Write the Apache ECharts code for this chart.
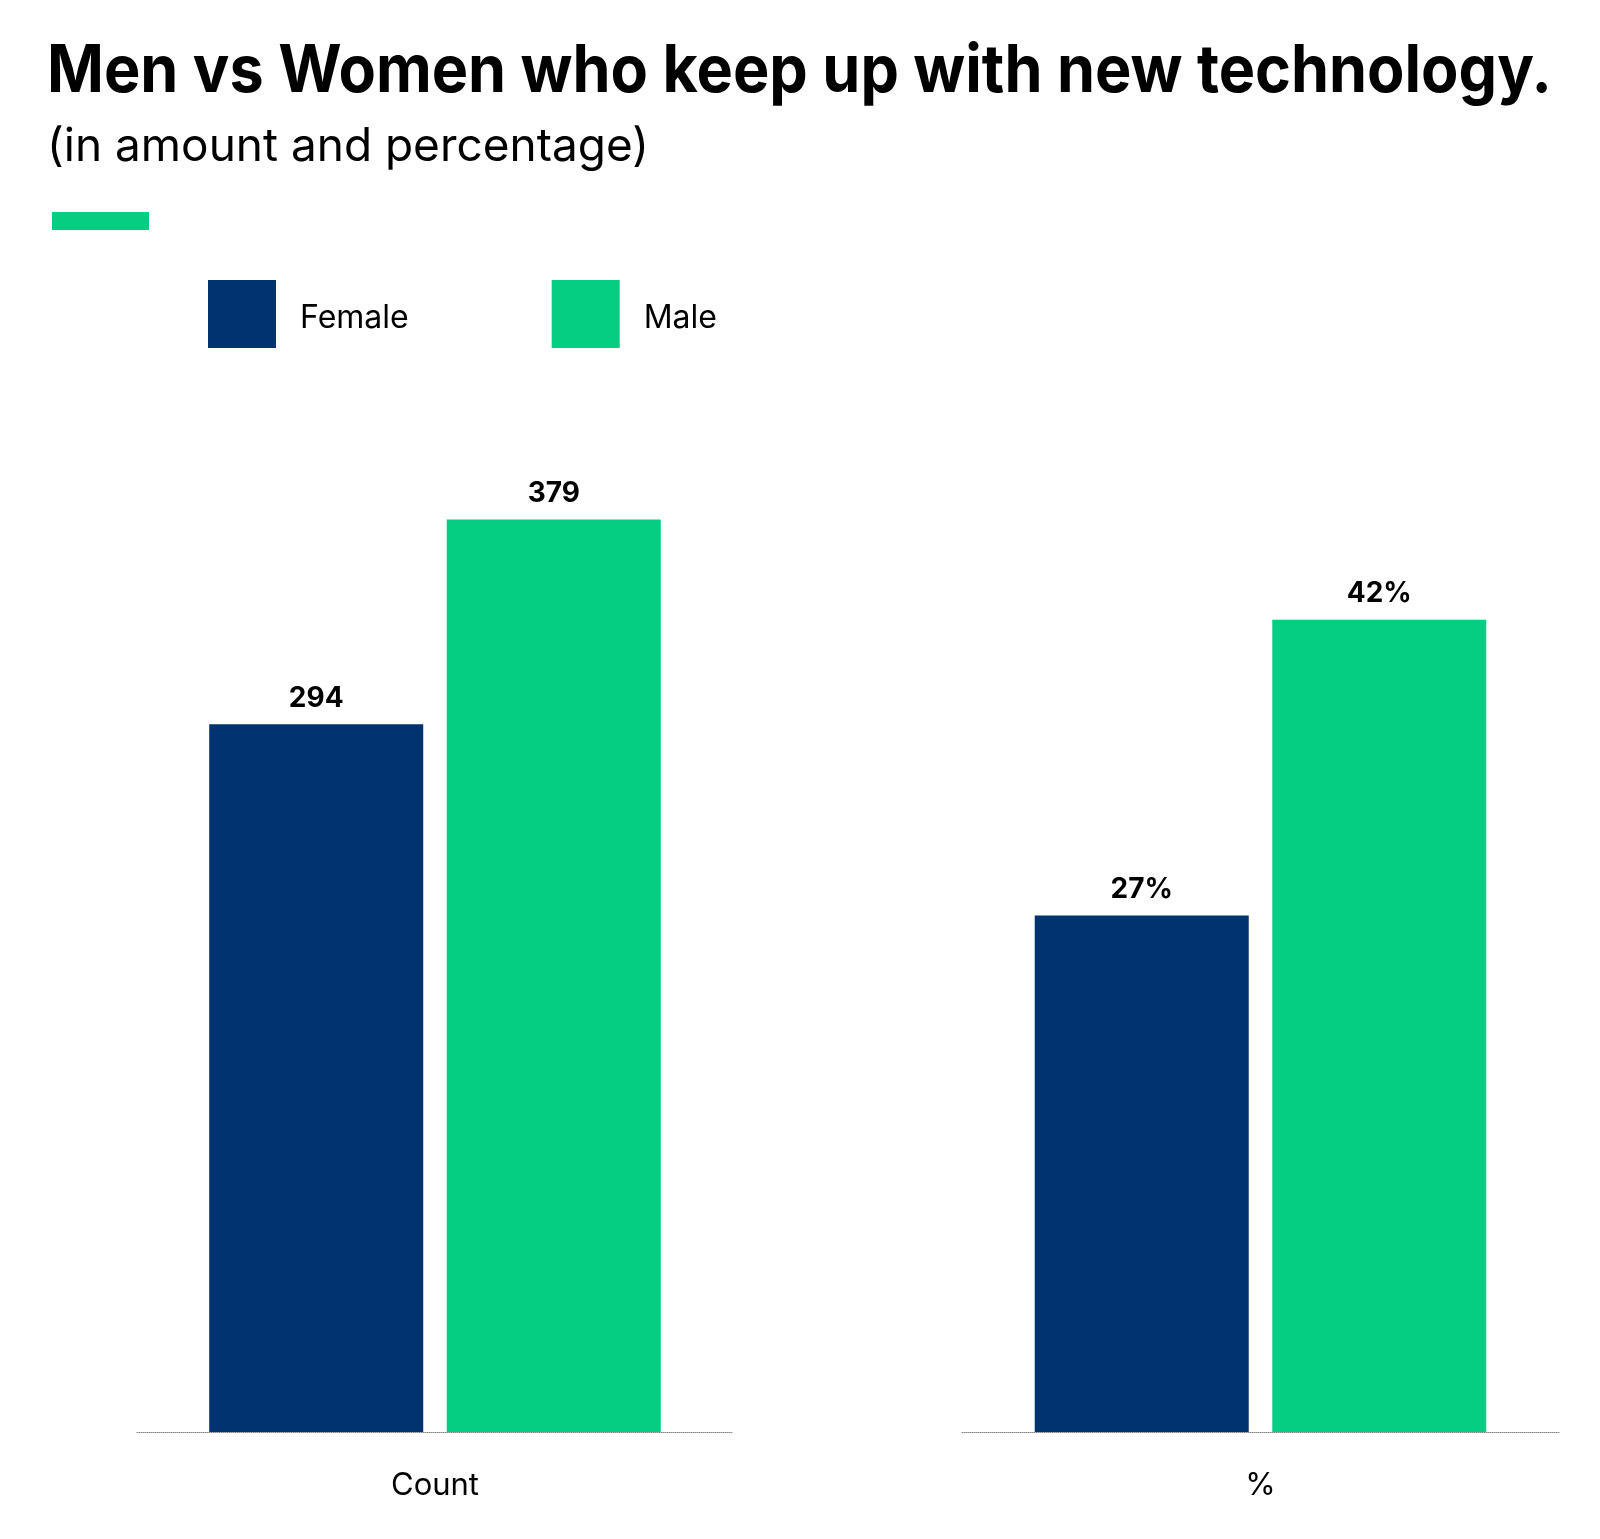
<!DOCTYPE html>
<html>
<head>
<meta charset="utf-8">
<script src="https://cdn.jsdelivr.net/npm/echarts@6/dist/echarts.min.js"></script>
<style>
html,body{margin:0;padding:0;background:#fff;}
#c{width:1600px;height:1539px;}
</style>
</head>
<body>
<div id="c"></div>
<script>
var titleText = 'Men vs Women who keep up with new technology.';
var subtitleText = '(in amount and percentage)';
var seriesNames = ['Female', 'Male'];
var countCategories = ['Count'];
var pctCategories = ['%'];
var femaleCount = [294];
var maleCount = [379];
var femalePct = [26.7];
var malePct = [42.0];

var FEMALE = '#003370';
var MALE = '#05CD81';
var FONT = 'Inter, "Noto Sans", sans-serif';

var TITLE_FONT = 'bold 66px Inter, "Noto Sans", sans-serif';
var SUB_FONT = 'normal 46px Inter, "Noto Sans", sans-serif';

function measure(font, text) {
  var ctx = document.createElement('canvas').getContext('2d');
  ctx.font = font;
  return ctx.measureText(text).width;
}
var titleScale = 1505 / measure(TITLE_FONT, titleText);
var subScale = 602 / measure(SUB_FONT, subtitleText);
if (!isFinite(titleScale) || titleScale <= 0) titleScale = 1;
if (!isFinite(subScale) || subScale <= 0) subScale = 1;

var chart = echarts.init(document.getElementById('c'), null, {renderer: 'canvas'});

function lbl(fmt) {
  return {
    show: true, position: 'top', distance: 12,
    fontFamily: FONT, fontWeight: 'bold', fontSize: 28, color: '#000',
    formatter: fmt
  };
}

var option = {
  backgroundColor: '#fff',
  animation: false,
  graphic: [
    {type: 'text', x: 47, y: 39, scaleX: titleScale,
     style: {text: titleText, font: TITLE_FONT, fill: '#000', textVerticalAlign: 'top'}},
    {type: 'text', x: 47, y: 124, scaleX: subScale,
     style: {text: subtitleText, font: SUB_FONT, fill: '#000', textVerticalAlign: 'top'}},
    {type: 'rect', left: 52, top: 212, shape: {width: 97, height: 18}, style: {fill: MALE}}
  ],
  legend: {
    data: seriesNames, left: 203, top: 275, icon: 'rect',
    itemWidth: 68, itemHeight: 68, itemGap: 143,
    formatter: function (name) { return '{a|' + name + '}'; },
    textStyle: {
      fontFamily: FONT, fontSize: 32, color: '#000',
      rich: {a: {fontFamily: FONT, fontSize: 32, color: '#000', padding: [8, 0, 0, 19]}}
    }
  },
  grid: [
    {left: 137, width: 596, top: 469, height: 963},
    {left: 962, width: 597, top: 465, height: 967}
  ],
  xAxis: [
    {type: 'category', gridIndex: 0, data: countCategories,
     axisLine: {lineStyle: {color: '#888', type: [1, 1], width: 1}},
     axisTick: {show: false},
     axisLabel: {fontFamily: FONT, fontSize: 31, color: '#000', margin: 38}},
    {type: 'category', gridIndex: 1, data: pctCategories,
     axisLine: {lineStyle: {color: '#888', type: [1, 1], width: 1}},
     axisTick: {show: false},
     axisLabel: {fontFamily: FONT, fontSize: 31, color: '#000', margin: 38}}
  ],
  yAxis: [
    {type: 'value', gridIndex: 0, min: 0, max: 400, show: false, splitLine: {show: false}},
    {type: 'value', gridIndex: 1, min: 0, max: 50, show: false, splitLine: {show: false}}
  ],
  series: [
    {name: 'Female', type: 'bar', xAxisIndex: 0, yAxisIndex: 0, data: femaleCount,
     barWidth: 214, barGap: '11%', itemStyle: {color: FEMALE},
     label: lbl(function (p) { return p.value; })},
    {name: 'Male', type: 'bar', xAxisIndex: 0, yAxisIndex: 0, data: maleCount,
     barWidth: 214, barGap: '11%', itemStyle: {color: MALE},
     label: lbl(function (p) { return p.value; })},
    {name: 'Female', type: 'bar', xAxisIndex: 1, yAxisIndex: 1, data: femalePct,
     barWidth: 214, barGap: '11%', itemStyle: {color: FEMALE},
     label: lbl(function (p) { return Math.round(p.value) + '%'; })},
    {name: 'Male', type: 'bar', xAxisIndex: 1, yAxisIndex: 1, data: malePct,
     barWidth: 214, barGap: '11%', itemStyle: {color: MALE},
     label: lbl(function (p) { return Math.round(p.value) + '%'; })}
  ]
};
chart.setOption(option);
</script>
</body>
</html>
